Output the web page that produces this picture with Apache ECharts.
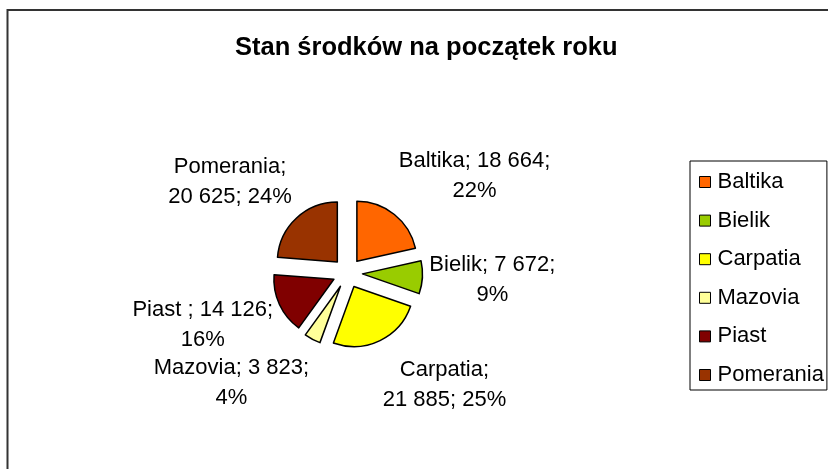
<!DOCTYPE html>
<html lang="pl">
<head>
    <meta charset="UTF-8">
    <title>Stan środków na początek roku</title>
    <style>
        html, body { margin: 0; padding: 0; background: #fff; }
    </style>
</head>
<body>
<div id="main" style="width: 828px;height:469px;"></div>
<script src="https://cdn.jsdelivr.net/npm/echarts@6/dist/echarts.min.js"></script>
<script>
    // dane z wykresu
    var names = ['Baltika', 'Bielik', 'Carpatia', 'Mazovia', 'Piast ', 'Pomerania'];
    var values = [18664, 7672, 21885, 3823, 14126, 20625];
    var colors = ['#ff6600', '#99cc00', '#ffff00', '#ffff99', '#800000', '#993300'];

    var pieCenter = [347.5, 273];
    var pieRadius = 60;
    var explode = 15;
    var fontFamily = "'Liberation Sans', Arial, sans-serif";
    var labelSize = 22, labelLineH = 30;

    var total = values.reduce(function (a, b) { return a + b; }, 0);

    function fmt(n) {
        return String(n).replace(/\B(?=(\d{3})+(?!\d))/g, ' ');
    }

    // etykieta jak w Excelu: "nazwa; wartosc; procent" w dwoch liniach
    function labelLines(name, value) {
        var pct = Math.round(value / total * 100) + '%';
        var head = name + '; ' + fmt(value) + ';';
        if (head.length <= 16) return [head, pct];
        return [name + ';', fmt(value) + '; ' + pct];
    }

    function midAngle(i) {
        var before = 0;
        for (var k = 0; k < i; k++) before += values[k];
        return (before + values[i] / 2) / total * Math.PI * 2;
    }

    // przesuniecie w pionie etykiety (odsuniecie od kola)
    function labelPadding(i) {
        var dy = -Math.cos(midAngle(i));
        var s = dy * 0.7 * labelLineH * 2;
        return s < 0 ? [0, 0, -2 * s, 0] : [2 * s, 0, 0, 0];
    }

    var myChart = echarts.init(document.getElementById('main'));

    var option = {
        backgroundColor: '#fff',
        animation: false,
        textStyle: { fontFamily: fontFamily },
        title: {
            text: 'Stan środków na początek roku',
            left: 230,
            top: 30,
            textStyle: {
                fontFamily: fontFamily,
                fontSize: 25.5,
                fontWeight: 'bold',
                color: '#000'
            }
        },
        legend: {
            orient: 'vertical',
            left: 690,
            top: 161,
            padding: [10, 3, 4, 9],
            itemGap: 16.6,
            itemWidth: 11,
            itemHeight: 11,
            borderColor: '#000',
            borderWidth: 1,
            icon: 'rect',
            itemStyle: { borderColor: '#000', borderWidth: 1 },
            textStyle: {
                color: '#000',
                fontSize: 22,
                lineHeight: 22,
                padding: [0, 0, 0, 2]
            },
            data: names
        },
        graphic: [{
            type: 'rect',
            shape: { x: 7.5, y: 10, width: 900, height: 600 },
            style: { fill: 'none', stroke: '#333', lineWidth: 2 },
            silent: true
        }],
        series: [
            {
                name: 'Stan środków',
                type: 'pie',
                center: pieCenter,
                radius: pieRadius,
                startAngle: 90,
                clockwise: true,
                avoidLabelOverlap: false,
                labelLayout: { hideOverlap: false },
                selectedMode: 'multiple',
                selectedOffset: explode,
                emphasis: { disabled: true },
                select: { itemStyle: { borderColor: '#000', borderWidth: 1.5 } },
                itemStyle: { borderColor: '#000', borderWidth: 1.5 },
                label: {
                    show: true,
                    position: 'outside',
                    alignTo: 'none',
                    distanceToLabelLine: 0,
                    overflow: 'none',
                    color: '#000',
                    fontSize: labelSize,
                    lineHeight: labelLineH,
                    formatter: function (p) {
                        return labelLines(p.name, p.value).map(function (l) {
                            return '{c|' + l + '}';
                        }).join('\n');
                    },
                    rich: {
                        c: {
                            align: 'center',
                            color: '#000',
                            fontFamily: fontFamily,
                            fontSize: labelSize,
                            lineHeight: labelLineH
                        }
                    }
                },
                labelLine: { show: false, length: 7, length2: 0 },
                data: names.map(function (n, i) {
                    return {
                        name: n,
                        value: values[i],
                        selected: true,
                        itemStyle: { color: colors[i] },
                        label: { padding: labelPadding(i) }
                    };
                })
            }
        ]
    };

    myChart.setOption(option);
</script>
</body>
</html>
